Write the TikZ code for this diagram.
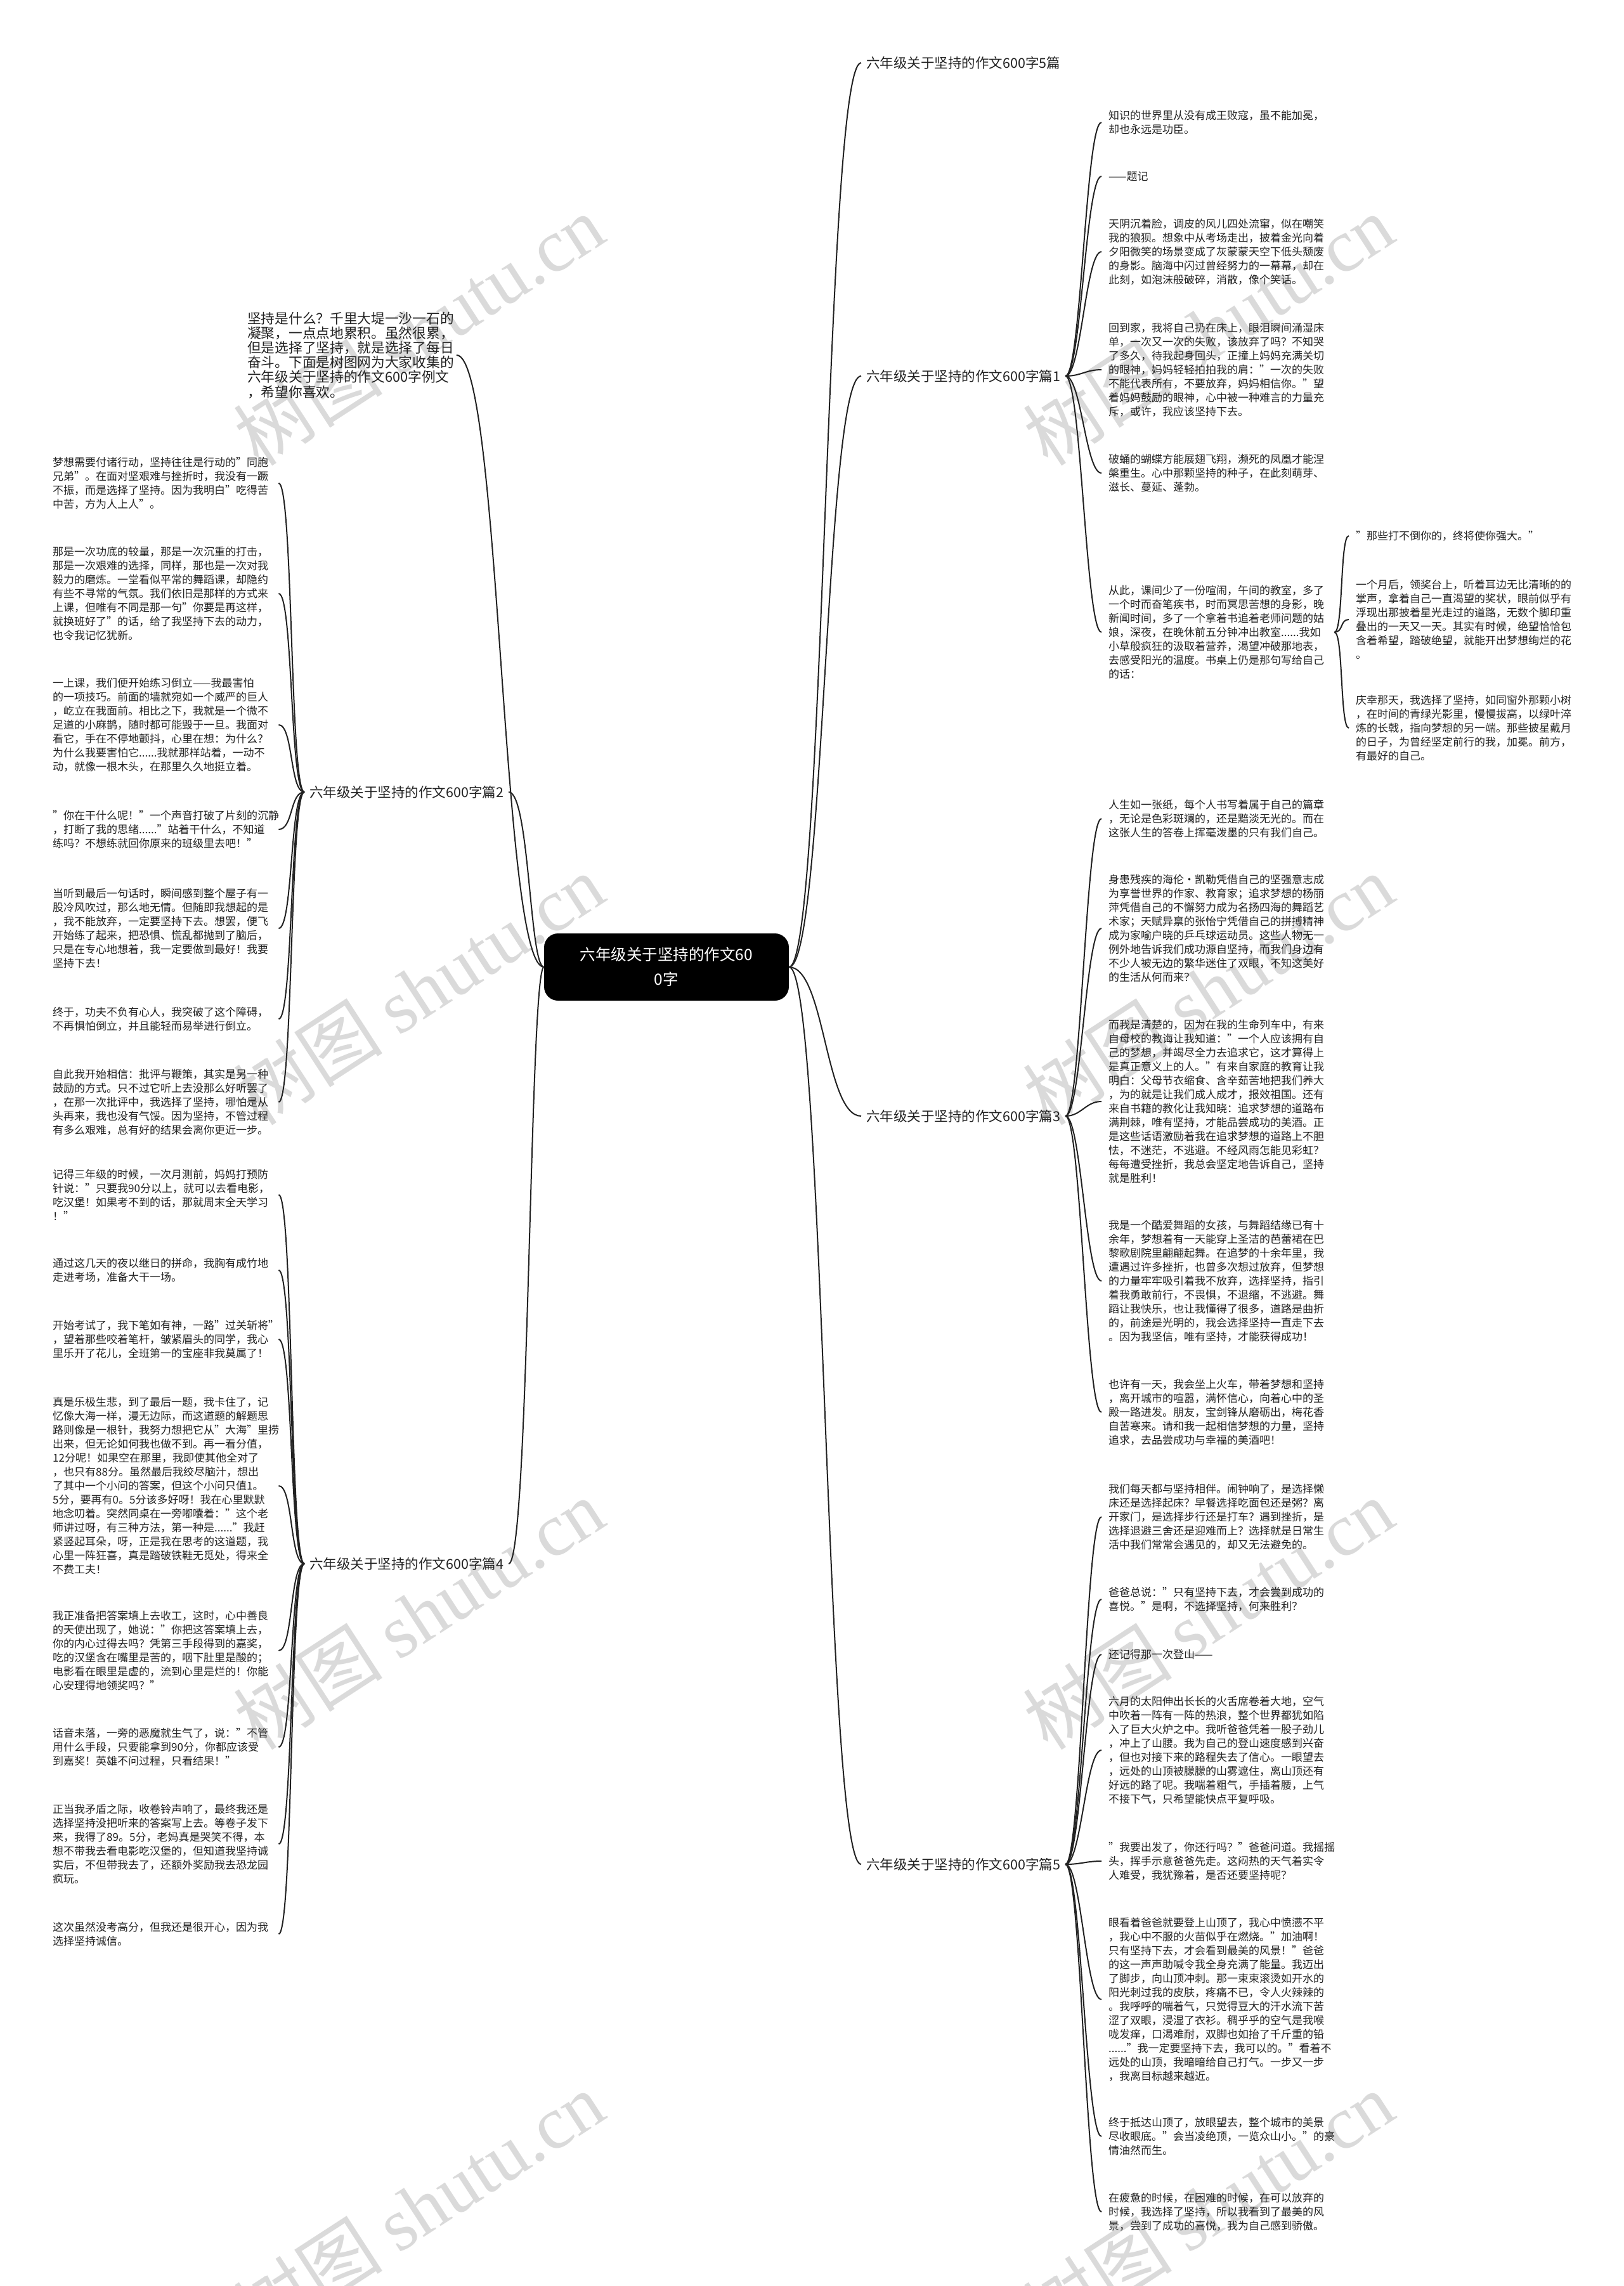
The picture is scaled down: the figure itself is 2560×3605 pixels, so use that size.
\documentclass[tikz,border=0pt]{standalone}
\usepackage{fontspec}
\setmainfont{Noto Sans CJK SC}
\newfontfamily\markfont{Liberation Serif}
\usetikzlibrary{positioning}
\definecolor{ink}{HTML}{222222}
\definecolor{wm}{HTML}{DADADA}

\begin{document}
\begin{tikzpicture}[
  x=1pt, y=-1pt,
  every node/.style={inner sep=0pt},
  leaf/.style={anchor=west, align=left, text width=345pt, inner xsep=11pt,
               inner ysep=4pt, text=ink, font=\fontsize{17}{22}\selectfont},
  topic/.style={anchor=west, inner xsep=8pt, inner ysep=4pt, text=ink,
                font=\fontsize{21.5}{26}\selectfont},
  root/.style={fill=black, text=white, rounded corners=22pt, align=center,
               minimum width=386pt, minimum height=106pt,
               font=\fontsize{24.5}{39}\selectfont},
  link/.style={draw=ink, line width=2pt},
  wmark/.style={text=wm, rotate=33, font=\fontsize{118}{118}\selectfont}
]
\useasboundingbox (0,0) rectangle (2560,3605);
\fill[white] (0,0) rectangle (2560,3605);

% watermark
\node[wmark] at (660,520) {树图 \markfont shutu.cn};
\node[wmark] at (1905,520) {树图 \markfont shutu.cn};
\node[wmark] at (660,1560) {树图 \markfont shutu.cn};
\node[wmark] at (1905,1560) {树图 \markfont shutu.cn};
\node[wmark] at (660,2545) {树图 \markfont shutu.cn};
\node[wmark] at (1905,2545) {树图 \markfont shutu.cn};
\node[wmark] at (660,3480) {树图 \markfont shutu.cn};
\node[wmark] at (1905,3480) {树图 \markfont shutu.cn};

% centre and topics
\node[root] (root) at (1051,1525) {六年级关于坚持的作文60\\0字};
\node[anchor=west, inner xsep=4pt, align=left, text=ink,
      font=\fontsize{21.7}{23.2}\selectfont] (intro) at (386,560)
  {坚持是什么？千里大堤一沙一石的\\凝聚，一点点地累积。虽然很累，\\但是选择了坚持，就是选择了每日\\奋斗。下面是树图网为大家收集的\\六年级关于坚持的作文600字例文\\，希望你喜欢。};
\node[topic] (p0) at (1358,99) {六年级关于坚持的作文600字5篇};
\node[topic] (p1) at (1358,593) {六年级关于坚持的作文600字篇1};
\node[topic] (p3) at (1358,1760) {六年级关于坚持的作文600字篇3};
\node[topic] (p5) at (1358,2940) {六年级关于坚持的作文600字篇5};
\node[topic] (p2) at (480,1249) {六年级关于坚持的作文600字篇2};
\node[topic] (p4) at (480,2466) {六年级关于坚持的作文600字篇4};

% part 1
\node[leaf] (p1a) at (1737,193) {知识的世界里从没有成王败寇，虽不能加冕，\\却也永远是功臣。};
\node[leaf] (p1b) at (1737,278) {——题记};
\node[leaf] (p1c) at (1737,397) {天阴沉着脸，调皮的风儿四处流窜，似在嘲笑\\我的狼狈。想象中从考场走出，披着金光向着\\夕阳微笑的场景变成了灰蒙蒙天空下低头颓废\\的身影。脑海中闪过曾经努力的一幕幕，却在\\此刻，如泡沫般破碎，消散，像个笑话。};
\node[leaf] (p1d) at (1737,583) {回到家，我将自己扔在床上，眼泪瞬间涌湿床\\单，一次又一次的失败，该放弃了吗？不知哭\\了多久，待我起身回头，正撞上妈妈充满关切\\的眼神，妈妈轻轻拍拍我的肩："一次的失败\\不能代表所有，不要放弃，妈妈相信你。"望\\着妈妈鼓励的眼神，心中被一种难言的力量充\\斥，或许，我应该坚持下去。};
\node[leaf] (p1e) at (1737,746) {破蛹的蝴蝶方能展翅飞翔，濒死的凤凰才能涅\\槃重生。心中那颗坚持的种子，在此刻萌芽、\\滋长、蔓延、蓬勃。};
\node[leaf] (p1f) at (1737,997) {从此，课间少了一份喧闹，午间的教室，多了\\一个时而奋笔疾书，时而冥思苦想的身影，晚\\新闻时间，多了一个拿着书追着老师问题的姑\\娘，深夜，在晚休前五分钟冲出教室......我如\\小草般疯狂的汲取着营养，渴望冲破那地表，\\去感受阳光的温度。书桌上仍是那句写给自己\\的话：};
\node[leaf] (p1f1) at (2127,845) {"那些打不倒你的，终将使你强大。"};
\node[leaf] (p1f2) at (2127,977) {一个月后，领奖台上，听着耳边无比清晰的的\\掌声，拿着自己一直渴望的奖状，眼前似乎有\\浮现出那披着星光走过的道路，无数个脚印重\\叠出的一天又一天。其实有时候，绝望恰恰包\\含着希望，踏破绝望，就能开出梦想绚烂的花\\。};
\node[leaf] (p1f3) at (2127,1148) {庆幸那天，我选择了坚持，如同窗外那颗小树\\，在时间的青绿光影里，慢慢拔高，以绿叶淬\\炼的长戟，指向梦想的另一端。那些披星戴月\\的日子，为曾经坚定前行的我，加冕。前方，\\有最好的自己。};

% part 2
\node[leaf] (p2a) at (72,762) {梦想需要付诸行动，坚持往往是行动的"同胞\\兄弟"。在面对坚艰难与挫折时，我没有一蹶\\不振，而是选择了坚持。因为我明白"吃得苦\\中苦，方为人上人"。};
\node[leaf] (p2b) at (72,936) {那是一次功底的较量，那是一次沉重的打击，\\那是一次艰难的选择，同样，那也是一次对我\\毅力的磨炼。一堂看似平常的舞蹈课，却隐约\\有些不寻常的气氛。我们依旧是那样的方式来\\上课，但唯有不同是那一句"你要是再这样，\\就换班好了"的话，给了我坚持下去的动力，\\也令我记忆犹新。};
\node[leaf] (p2c) at (72,1143) {一上课，我们便开始练习倒立——我最害怕\\的一项技巧。前面的墙就宛如一个威严的巨人\\，屹立在我面前。相比之下，我就是一个微不\\足道的小麻鹊，随时都可能毁于一旦。我面对\\看它，手在不停地颤抖，心里在想：为什么？\\为什么我要害怕它......我就那样站着，一动不\\动，就像一根木头，在那里久久地挺立着。};
\node[leaf] (p2d) at (72,1308) {"你在干什么呢！"一个声音打破了片刻的沉静\\，打断了我的思绪......"站着干什么，不知道\\练吗？不想练就回你原来的班级里去吧！"};
\node[leaf] (p2e) at (72,1464) {当听到最后一句话时，瞬间感到整个屋子有一\\股冷风吹过，那么地无情。但随即我想起的是\\，我不能放弃，一定要坚持下去。想罢，便飞\\开始练了起来，把恐惧、慌乱都抛到了脑后，\\只是在专心地想着，我一定要做到最好！我要\\坚持下去！};
\node[leaf] (p2f) at (72,1607) {终于，功夫不负有心人，我突破了这个障碍，\\不再惧怕倒立，并且能轻而易举进行倒立。};
\node[leaf] (p2g) at (72,1738) {自此我开始相信：批评与鞭策，其实是另一种\\鼓励的方式。只不过它听上去没那么好听罢了\\，在那一次批评中，我选择了坚持，哪怕是从\\头再来，我也没有气馁。因为坚持，不管过程\\有多么艰难，总有好的结果会离你更近一步。};

% part 3
\node[leaf] (p3a) at (1737,1291) {人生如一张纸，每个人书写着属于自己的篇章\\，无论是色彩斑斓的，还是黯淡无光的。而在\\这张人生的答卷上挥毫泼墨的只有我们自己。};
\node[leaf] (p3b) at (1737,1464) {身患残疾的海伦·凯勒凭借自己的坚强意志成\\为享誉世界的作家、教育家；追求梦想的杨丽\\萍凭借自己的不懈努力成为名扬四海的舞蹈艺\\术家；天赋异禀的张怡宁凭借自己的拼搏精神\\成为家喻户晓的乒乓球运动员。这些人物无一\\例外地告诉我们成功源自坚持，而我们身边有\\不少人被无边的繁华迷住了双眼，不知这美好\\的生活从何而来？};
\node[leaf] (p3c) at (1737,1737) {而我是清楚的，因为在我的生命列车中，有来\\自母校的教诲让我知道："一个人应该拥有自\\己的梦想，并竭尽全力去追求它，这才算得上\\是真正意义上的人。"有来自家庭的教育让我\\明白：父母节衣缩食、含辛茹苦地把我们养大\\，为的就是让我们成人成才，报效祖国。还有\\来自书籍的教化让我知晓：追求梦想的道路布\\满荆棘，唯有坚持，才能品尝成功的美酒。正\\是这些话语激励着我在追求梦想的道路上不胆\\怯，不迷茫，不逃避。不经风雨怎能见彩虹？\\每每遭受挫折，我总会坚定地告诉自己，坚持\\就是胜利！};
\node[leaf] (p3d) at (1737,2020) {我是一个酷爱舞蹈的女孩，与舞蹈结缘已有十\\余年，梦想着有一天能穿上圣洁的芭蕾裙在巴\\黎歌剧院里翩翩起舞。在追梦的十余年里，我\\遭遇过许多挫折，也曾多次想过放弃，但梦想\\的力量牢牢吸引着我不放弃，选择坚持，指引\\着我勇敢前行，不畏惧，不退缩，不逃避。舞\\蹈让我快乐，也让我懂得了很多，道路是曲折\\的，前途是光明的，我会选择坚持一直走下去\\。因为我坚信，唯有坚持，才能获得成功！};
\node[leaf] (p3e) at (1737,2227) {也许有一天，我会坐上火车，带着梦想和坚持\\，离开城市的喧嚣，满怀信心，向着心中的圣\\殿一路进发。朋友，宝剑锋从磨砺出，梅花香\\自苦寒来。请和我一起相信梦想的力量，坚持\\追求，去品尝成功与幸福的美酒吧！};

% part 4
\node[leaf] (p4a) at (72,1884) {记得三年级的时候，一次月测前，妈妈打预防\\针说："只要我90分以上，就可以去看电影，\\吃汉堡！如果考不到的话，那就周末全天学习\\！"};
\node[leaf] (p4b) at (72,2003) {通过这几天的夜以继日的拼命，我胸有成竹地\\走进考场，准备大干一场。};
\node[leaf] (p4c) at (72,2112) {开始考试了，我下笔如有神，一路"过关斩将"\\，望着那些咬着笔杆，皱紧眉头的同学，我心\\里乐开了花儿，全班第一的宝座非我莫属了！};
\node[leaf] (p4d) at (72,2343) {真是乐极生悲，到了最后一题，我卡住了，记\\忆像大海一样，漫无边际，而这道题的解题思\\路则像是一根针，我努力想把它从"大海"里捞\\出来，但无论如何我也做不到。再一看分值，\\12分呢！如果空在那里，我即使其他全对了\\，也只有88分。虽然最后我绞尽脑汁，想出\\了其中一个小问的答案，但这个小问只值1。\\5分，要再有0。5分该多好呀！我在心里默默\\地念叨着。突然同桌在一旁嘟囔着："这个老\\师讲过呀，有三种方法，第一种是......"我赶\\紧竖起耳朵，呀，正是我在思考的这道题，我\\心里一阵狂喜，真是踏破铁鞋无觅处，得来全\\不费工夫！};
\node[leaf] (p4e) at (72,2603) {我正准备把答案填上去收工，这时，心中善良\\的天使出现了，她说："你把这答案填上去，\\你的内心过得去吗？凭第三手段得到的嘉奖，\\吃的汉堡含在嘴里是苦的，咽下肚里是酸的；\\电影看在眼里是虚的，流到心里是烂的！你能\\心安理得地领奖吗？"};
\node[leaf] (p4f) at (72,2755) {话音未落，一旁的恶魔就生气了，说："不管\\用什么手段，只要能拿到90分，你都应该受\\到嘉奖！英雄不问过程，只看结果！"};
\node[leaf] (p4g) at (72,2908) {正当我矛盾之际，收卷铃声响了，最终我还是\\选择坚持没把听来的答案写上去。等卷子发下\\来，我得了89。5分，老妈真是哭笑不得，本\\想不带我去看电影吃汉堡的，但知道我坚持诚\\实后，不但带我去了，还额外奖励我去恐龙园\\疯玩。};
\node[leaf] (p4h) at (72,3050) {这次虽然没考高分，但我还是很开心，因为我\\选择坚持诚信。};

% part 5
\node[leaf] (p5a) at (1737,2392) {我们每天都与坚持相伴。闹钟响了，是选择懒\\床还是选择起床？早餐选择吃面包还是粥？离\\开家门，是选择步行还是打车？遇到挫折，是\\选择退避三舍还是迎难而上？选择就是日常生\\活中我们常常会遇见的，却又无法避免的。};
\node[leaf] (p5b) at (1737,2522) {爸爸总说："只有坚持下去，才会尝到成功的\\喜悦。"是啊，不选择坚持，何来胜利？};
\node[leaf] (p5c) at (1737,2609) {还记得那一次登山——};
\node[leaf] (p5d) at (1737,2760) {六月的太阳伸出长长的火舌席卷着大地，空气\\中吹着一阵有一阵的热浪，整个世界都犹如陷\\入了巨大火炉之中。我听爸爸凭着一股子劲儿\\，冲上了山腰。我为自己的登山速度感到兴奋\\，但也对接下来的路程失去了信心。一眼望去\\，远处的山顶被朦朦的山雾遮住，离山顶还有\\好远的路了呢。我喘着粗气，手插着腰，上气\\不接下气，只希望能快点平复呼吸。};
\node[leaf] (p5e) at (1737,2935) {"我要出发了，你还行吗？"爸爸问道。我摇摇\\头，挥手示意爸爸先走。这闷热的天气着实令\\人难受，我犹豫着，是否还要坚持呢？};
\node[leaf] (p5f) at (1737,3153) {眼看着爸爸就要登上山顶了，我心中愤懑不平\\，我心中不服的火苗似乎在燃烧。"加油啊！\\只有坚持下去，才会看到最美的风景！"爸爸\\的这一声声助喊令我全身充满了能量。我迈出\\了脚步，向山顶冲刺。那一束束滚烫如开水的\\阳光刺过我的皮肤，疼痛不已，令人火辣辣的\\。我呼呼的喘着气，只觉得豆大的汗水流下苦\\涩了双眼，浸湿了衣衫。稠乎乎的空气是我喉\\咙发痒，口渴难耐，双脚也如抬了千斤重的铅\\......"我一定要坚持下去，我可以的。"看着不\\远处的山顶，我暗暗给自己打气。一步又一步\\，我离目标越来越近。};
\node[leaf] (p5g) at (1737,3369) {终于抵达山顶了，放眼望去，整个城市的美景\\尽收眼底。"会当凌绝顶，一览众山小。"的豪\\情油然而生。};
\node[leaf] (p5h) at (1737,3488) {在疲惫的时候，在困难的时候，在可以放弃的\\时候，我选择了坚持，所以我看到了最美的风\\景，尝到了成功的喜悦，我为自己感到骄傲。};

% links from the centre
\draw[link] (root.east) .. controls (1301,1525) and (1301,99) .. (p0.west);
\draw[link] (root.east) .. controls (1301,1525) and (1301,593) .. (p1.west);
\draw[link] (root.east) .. controls (1301,1525) and (1301,1760) .. (p3.west);
\draw[link] (root.east) .. controls (1301,1525) and (1301,2940) .. (p5.west);
\draw[link] (root.west) .. controls (790,1525) and (790,560) .. (intro.east);
\draw[link] (root.west) .. controls (835,1525) and (835,1249) .. (p2.east);
\draw[link] (root.west) .. controls (835,1525) and (835,2466) .. (p4.east);

% links to the leaves
\draw[link] (p1.east) .. controls +(25,0) and +(-25,0) .. (p1a.west);
\draw[link] (p1.east) .. controls +(25,0) and +(-25,0) .. (p1b.west);
\draw[link] (p1.east) .. controls +(25,0) and +(-25,0) .. (p1c.west);
\draw[link] (p1.east) .. controls +(25,0) and +(-25,0) .. (p1d.west);
\draw[link] (p1.east) .. controls +(25,0) and +(-25,0) .. (p1e.west);
\draw[link] (p1.east) .. controls +(25,0) and +(-25,0) .. (p1f.west);
\draw[link] (p1f.east) .. controls +(14,0) and +(-14,0) .. (p1f1.west);
\draw[link] (p1f.east) .. controls +(14,0) and +(-14,0) .. (p1f2.west);
\draw[link] (p1f.east) .. controls +(14,0) and +(-14,0) .. (p1f3.west);

\draw[link] (p2.west) .. controls +(-23,0) and +(23,0) .. (p2a.east);
\draw[link] (p2.west) .. controls +(-23,0) and +(23,0) .. (p2b.east);
\draw[link] (p2.west) .. controls +(-23,0) and +(23,0) .. (p2c.east);
\draw[link] (p2.west) .. controls +(-23,0) and +(23,0) .. (p2d.east);
\draw[link] (p2.west) .. controls +(-23,0) and +(23,0) .. (p2e.east);
\draw[link] (p2.west) .. controls +(-23,0) and +(23,0) .. (p2f.east);
\draw[link] (p2.west) .. controls +(-23,0) and +(23,0) .. (p2g.east);

\draw[link] (p3.east) .. controls +(25,0) and +(-25,0) .. (p3a.west);
\draw[link] (p3.east) .. controls +(25,0) and +(-25,0) .. (p3b.west);
\draw[link] (p3.east) .. controls +(25,0) and +(-25,0) .. (p3c.west);
\draw[link] (p3.east) .. controls +(25,0) and +(-25,0) .. (p3d.west);
\draw[link] (p3.east) .. controls +(25,0) and +(-25,0) .. (p3e.west);

\draw[link] (p4.west) .. controls +(-23,0) and +(23,0) .. (p4a.east);
\draw[link] (p4.west) .. controls +(-23,0) and +(23,0) .. (p4b.east);
\draw[link] (p4.west) .. controls +(-23,0) and +(23,0) .. (p4c.east);
\draw[link] (p4.west) .. controls +(-23,0) and +(23,0) .. (p4d.east);
\draw[link] (p4.west) .. controls +(-23,0) and +(23,0) .. (p4e.east);
\draw[link] (p4.west) .. controls +(-23,0) and +(23,0) .. (p4f.east);
\draw[link] (p4.west) .. controls +(-23,0) and +(23,0) .. (p4g.east);
\draw[link] (p4.west) .. controls +(-23,0) and +(23,0) .. (p4h.east);

\draw[link] (p5.east) .. controls +(25,0) and +(-25,0) .. (p5a.west);
\draw[link] (p5.east) .. controls +(25,0) and +(-25,0) .. (p5b.west);
\draw[link] (p5.east) .. controls +(25,0) and +(-25,0) .. (p5c.west);
\draw[link] (p5.east) .. controls +(25,0) and +(-25,0) .. (p5d.west);
\draw[link] (p5.east) .. controls +(25,0) and +(-25,0) .. (p5e.west);
\draw[link] (p5.east) .. controls +(25,0) and +(-25,0) .. (p5f.west);
\draw[link] (p5.east) .. controls +(25,0) and +(-25,0) .. (p5g.west);
\draw[link] (p5.east) .. controls +(25,0) and +(-25,0) .. (p5h.west);
\end{tikzpicture}
\end{document}
